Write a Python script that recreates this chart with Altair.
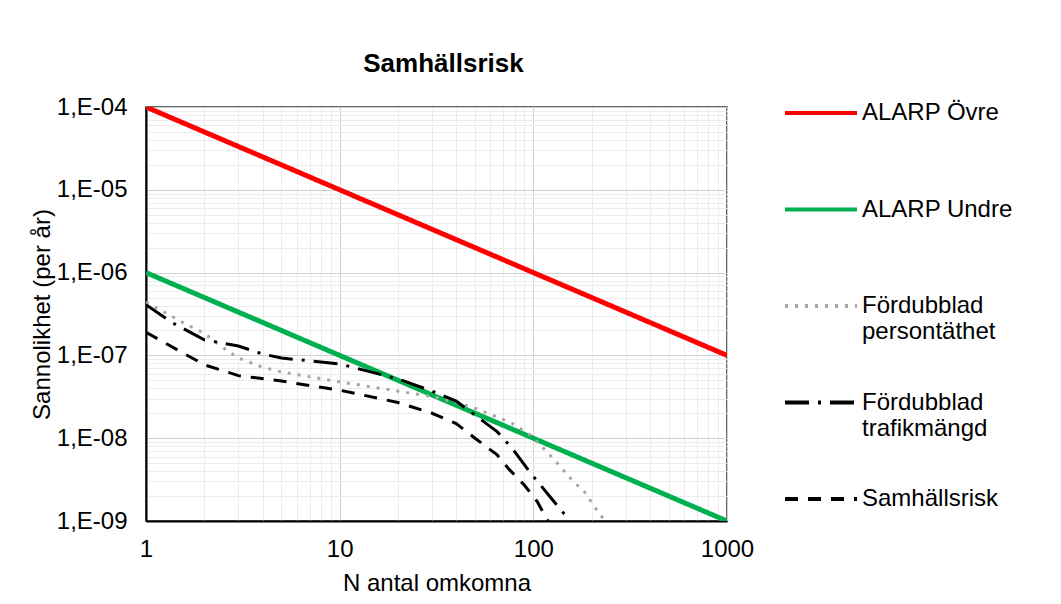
import altair as alt
import pandas as pd

# ---------------- data ----------------
series = ["ALARP Övre", "ALARP Undre", "Fördubblad persontäthet",
          "Fördubblad trafikmängd", "Samhällsrisk"]
colors = ["#FF0000", "#00B050", "#A6A6A6", "#000000", "#000000"]
dashes = [[1, 0], [1, 0], [3, 7], [24, 9, 3, 9], [13, 10]]

alarp_n = [1, 1000]
alarp_ovre = [1e-4, 1e-7]
alarp_undre = [1e-6, 1e-9]

pers_n = [1, 1.55, 2, 2.59, 3, 4, 5, 10, 20, 30, 40, 50, 65, 78, 96, 112, 133, 155, 185, 213, 235]
pers_p = [4.4e-7, 2.5e-7, 1.85e-7, 1.17e-7, 9.3e-8, 7.2e-8, 6.3e-8, 4.8e-8, 3.7e-8, 3.2e-8,
          2.7e-8, 2.3e-8, 1.8e-8, 1.5e-8, 1.1e-8, 7.7e-9, 5.0e-9, 3.3e-9, 2.2e-9, 1.35e-9, 1.0e-9]

traf_n = [1, 1.36, 2, 3, 4, 5, 10, 20, 30, 40, 50, 65, 78, 96, 119, 155]
traf_p = [4.1e-7, 2.5e-7, 1.54e-7, 1.3e-7, 1.04e-7, 9.3e-8, 7.9e-8, 5.2e-8, 3.7e-8, 2.8e-8,
          1.9e-8, 1.2e-8, 7.5e-9, 3.9e-9, 2.1e-9, 1.0e-9]

sam_n = [1, 2, 3, 5, 10, 20, 30, 40, 50, 65, 75, 90, 105, 119]
sam_p = [1.9e-7, 7.7e-8, 5.7e-8, 4.9e-8, 3.8e-8, 2.7e-8, 2.0e-8, 1.5e-8, 1.0e-8,
         6.3e-9, 4.2e-9, 2.7e-9, 1.7e-9, 1.0e-9]

x_grid = [k * 10 ** e for e in range(0, 3) for k in range(1, 10)] + [1000]
y_grid = [k * 10.0 ** e for e in range(-9, -4) for k in range(1, 10)] + [1e-4]

# ---------------- tables ----------------
alarp_df = pd.concat([
    pd.DataFrame({"N": alarp_n, "P": alarp_ovre, "serie": series[0]}),
    pd.DataFrame({"N": alarp_n, "P": alarp_undre, "serie": series[1]}),
])
risk_df = pd.concat([
    pd.DataFrame({"N": pers_n, "P": pers_p, "serie": series[2]}),
    pd.DataFrame({"N": traf_n, "P": traf_p, "serie": series[3]}),
    pd.DataFrame({"N": sam_n, "P": sam_p, "serie": series[4]}),
])

FONT = "Liberation Sans"
decade = "abs(log(datum.value)/LN10 - round(log(datum.value)/LN10)) < 0.001"
grid_color = {"condition": {"test": decade, "value": "#d0d0d0"}, "value": "#ececec"}

xaxis = alt.Axis(values=x_grid, labelExpr=f"{decade} ? '' + round(datum.value) : ''",
                 title="N antal omkomna", grid=True, gridColor=grid_color, gridWidth=1,
                 ticks=False, tickSize=0, labelPadding=16, titlePadding=10,
                 labelFlush=False, domainColor="#000000", domainWidth=2, labelOverlap=False,
                 labelFontSize=24, titleFontSize=24, labelFont=FONT, titleFont=FONT,
                 titleFontWeight="normal", labelColor="#000", titleColor="#000")
yaxis = alt.Axis(values=y_grid,
                 labelExpr=f"{decade} ? '1,E-0' + (-round(log(datum.value)/LN10)) : ''",
                 title="Sannolikhet (per år)", grid=True, gridColor=grid_color, gridWidth=1,
                 ticks=False, tickSize=0, labelPadding=19, titlePadding=2,
                 labelFlush=False, domainColor="#000000", domainWidth=2, labelOverlap=False,
                 labelFontSize=24, titleFontSize=24, labelFont=FONT, titleFont=FONT,
                 titleFontWeight="normal", labelColor="#000", titleColor="#000")

xscale = alt.Scale(type="log", domain=[1, 1000], nice=False)
yscale = alt.Scale(type="log", domain=[1e-9, 1e-4], nice=False)

leg = alt.Legend(
    title=None, orient="none", legendX=637, legendY=-32,
    labelExpr=("indexof(datum.label, 'Fördubblad') == 0 ? "
               "split(datum.label, ' ') : [datum.label, '']"),
    symbolType="stroke", symbolSize=5184, symbolStrokeWidth=4,
    labelFontSize=24, labelFont=FONT, labelColor="#000",
    labelLimit=400, rowPadding=20.5, labelOffset=3, labelBaseline="middle",
)

color = alt.Color("serie:N", scale=alt.Scale(domain=series, range=colors), legend=leg)
dash = alt.StrokeDash("serie:N", scale=alt.Scale(domain=series, range=dashes), legend=leg)
X = alt.X("N:Q", scale=xscale, axis=xaxis)
Y = alt.Y("P:Q", scale=yscale, axis=yaxis)

alarp = alt.Chart(alarp_df).mark_line(strokeWidth=5, clip=True).encode(
    x=X, y=Y, color=color, strokeDash=dash, detail="serie:N")
risk = alt.Chart(risk_df).mark_line(strokeWidth=3, clip=True).encode(
    x=X, y=Y, color=color, strokeDash=dash, detail="serie:N", order=alt.Order("N:Q"))

chart = alt.layer(alarp, risk).properties(
    width=581, height=414,
    autosize=alt.AutoSizeParams(type="none"),
    padding={"left": 138, "top": 99, "right": 320, "bottom": 80},
    title=alt.TitleParams("Samhällsrisk", fontSize=26, fontWeight="bold", font=FONT,
                          color="#000", anchor="middle", frame="group", offset=-2, dx=7),
).configure_view(stroke="#333333", strokeWidth=1.5)

chart.save("out.html", embed_options={"renderer": "svg", "actions": False})
